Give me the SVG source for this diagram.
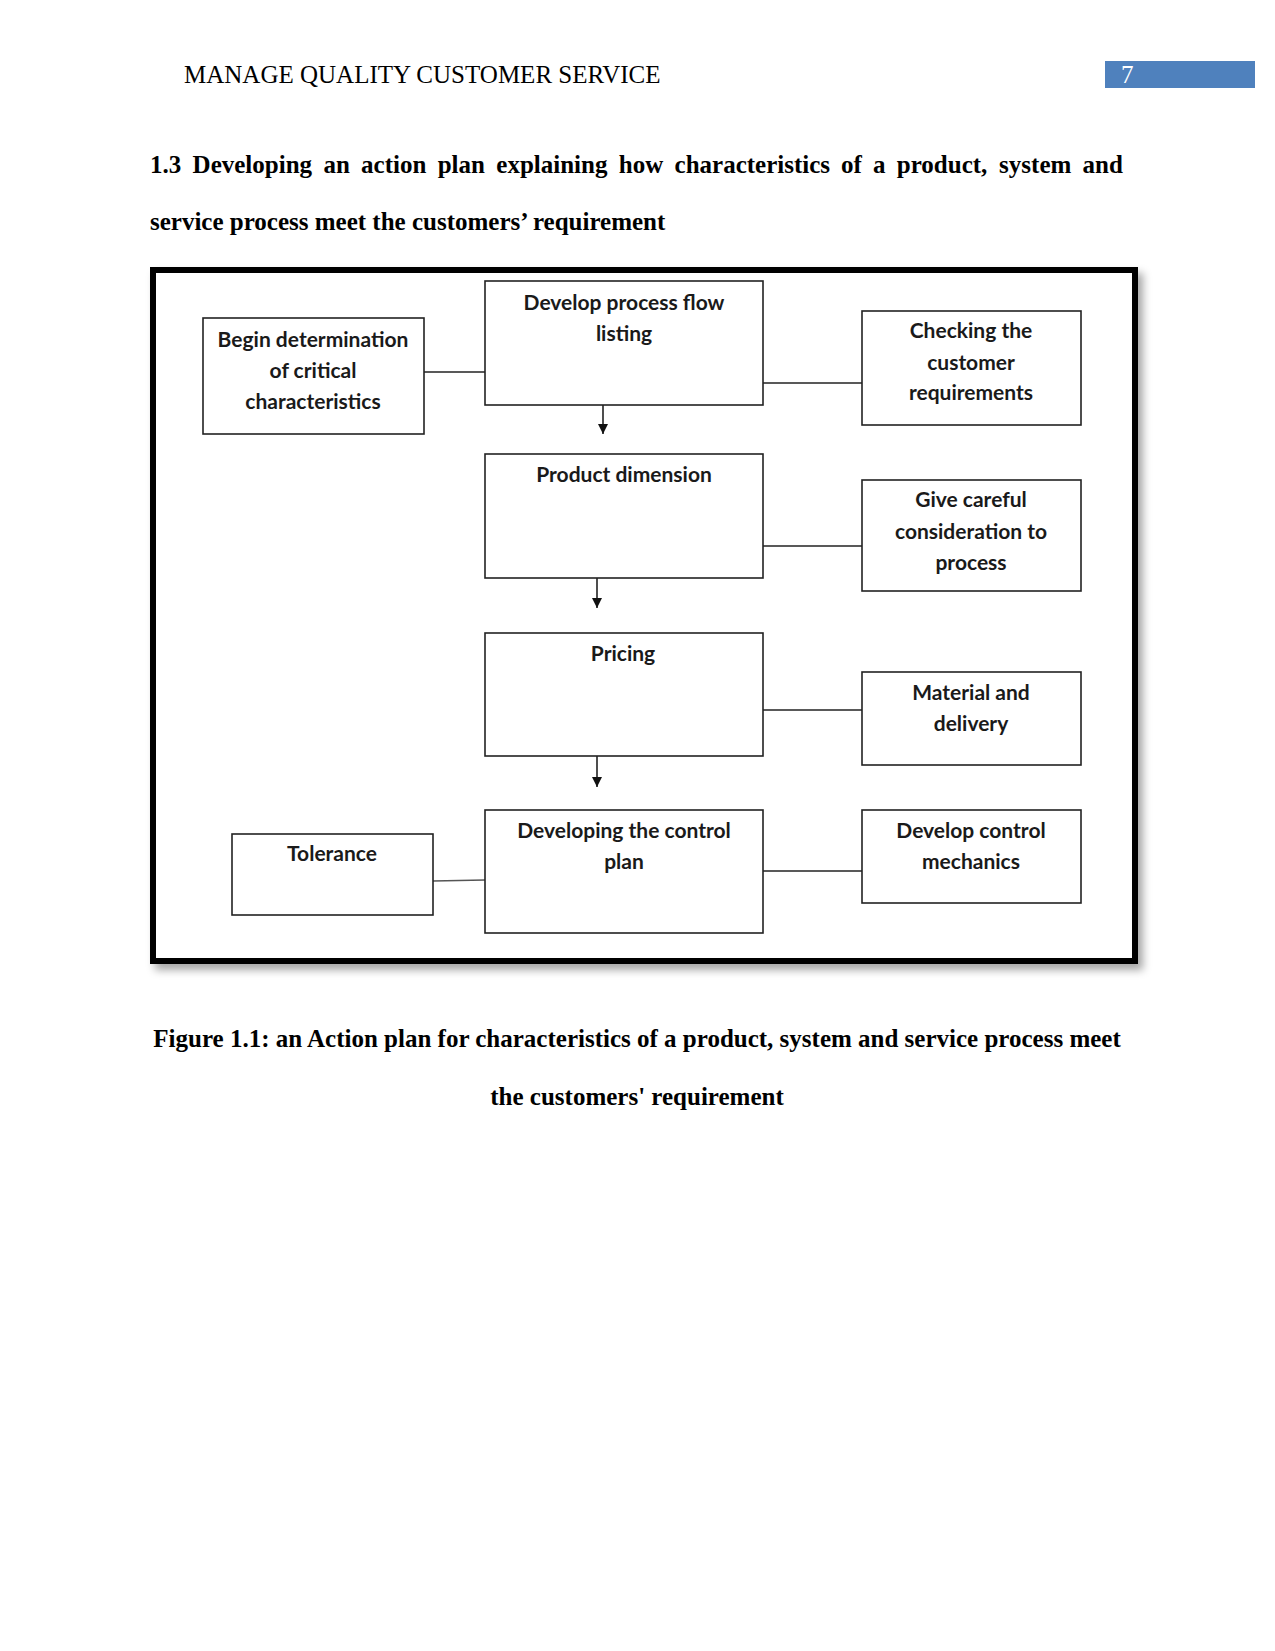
<svg xmlns="http://www.w3.org/2000/svg" width="1275" height="1651" viewBox="0 0 1275 1651">
<style>
.serif{font-family:"Liberation Serif","Times New Roman",serif;fill:#000}
.hd{font-size:25px}
.b{font-weight:bold;font-size:25px}
.box{fill:#fff;stroke:#222;stroke-width:1.6}
.lbl{font-family:Lato,"Open Sans","Noto Sans",sans-serif;font-size:21px;font-weight:bold;fill:#1a1a1a;text-anchor:middle}
.ln{stroke:#222;stroke-width:1.6;fill:none}
</style>
<defs>
<marker id="ah" viewBox="0 0 10 10" refX="10" refY="5" markerWidth="10" markerHeight="10" markerUnits="userSpaceOnUse" orient="auto">
<path d="M0,0 L10,5 L0,10 z" fill="#111"/>
</marker>
<filter id="sh" x="-5%" y="-5%" width="112%" height="115%">
<feDropShadow dx="5" dy="6" stdDeviation="4" flood-color="#000" flood-opacity="0.35"/>
</filter>
</defs>
<rect width="1275" height="1651" fill="#fff"/>
<text class="serif hd" x="184" y="83">MANAGE QUALITY CUSTOMER SERVICE</text>
<rect x="1105" y="61" width="150" height="27" fill="#4F81BD"/>
<text class="serif hd" x="1121" y="83" style="fill:#fff">7</text>
<text class="serif b" y="173"><tspan x="150">1.3</tspan><tspan x="192.6">Developing</tspan><tspan x="323.4">an</tspan><tspan x="361.1">action</tspan><tspan x="437.7">plan</tspan><tspan x="496.3">explaining</tspan><tspan x="618.8">how</tspan><tspan x="674.6">characteristics</tspan><tspan x="840.9">of</tspan><tspan x="873">a</tspan><tspan x="896.8">product,</tspan><tspan x="999.1">system</tspan><tspan x="1082.6">and</tspan></text>
<text class="serif b" x="150" y="230">service process meet the customers’ requirement</text>
<rect x="153" y="270" width="982" height="691" fill="#fff" stroke="#000" stroke-width="6" filter="url(#sh)"/>
<g id="connectors">
<line class="ln" x1="424" y1="372" x2="485" y2="372"/>
<line class="ln" x1="763" y1="383" x2="862" y2="383"/>
<line class="ln" x1="603" y1="405" x2="603" y2="434" marker-end="url(#ah)"/>
<line class="ln" x1="763" y1="546" x2="862" y2="546"/>
<line class="ln" x1="597" y1="578" x2="597" y2="608" marker-end="url(#ah)"/>
<line class="ln" x1="763" y1="710" x2="862" y2="710"/>
<line class="ln" x1="597" y1="756" x2="597" y2="787" marker-end="url(#ah)"/>
<line class="ln" x1="433" y1="881" x2="485" y2="880" style="stroke:#555"/>
<line class="ln" x1="763" y1="871" x2="862" y2="871"/>
</g>
<g id="n-begin"><rect class="box" x="203" y="318" width="221" height="116"/><text class="lbl" x="313" y="347">Begin determination</text><text class="lbl" x="313" y="378">of critical</text><text class="lbl" x="313" y="409">characteristics</text></g>
<g id="n-flow"><rect class="box" x="485" y="281" width="278" height="124"/><text class="lbl" x="624" y="310">Develop process flow</text><text class="lbl" x="624" y="341">listing</text></g>
<g id="n-check"><rect class="box" x="862" y="311" width="219" height="114"/><text class="lbl" x="971" y="338">Checking the</text><text class="lbl" x="971" y="370">customer</text><text class="lbl" x="971" y="400">requirements</text></g>
<g id="n-product"><rect class="box" x="485" y="454" width="278" height="124"/><text class="lbl" x="624" y="482">Product dimension</text></g>
<g id="n-careful"><rect class="box" x="862" y="480" width="219" height="111"/><text class="lbl" x="971" y="507">Give careful</text><text class="lbl" x="971" y="539">consideration to</text><text class="lbl" x="971" y="570">process</text></g>
<g id="n-pricing"><rect class="box" x="485" y="633" width="278" height="123"/><text class="lbl" x="623" y="661">Pricing</text></g>
<g id="n-material"><rect class="box" x="862" y="672" width="219" height="93"/><text class="lbl" x="971" y="700">Material and</text><text class="lbl" x="971" y="731">delivery</text></g>
<g id="n-tolerance"><rect class="box" x="232" y="834" width="201" height="81"/><text class="lbl" x="332" y="861">Tolerance</text></g>
<g id="n-control"><rect class="box" x="485" y="810" width="278" height="123"/><text class="lbl" x="624" y="838">Developing the control</text><text class="lbl" x="624" y="869">plan</text></g>
<g id="n-mechanics"><rect class="box" x="862" y="810" width="219" height="93"/><text class="lbl" x="971" y="838">Develop control</text><text class="lbl" x="971" y="869">mechanics</text></g>
<text class="serif b" x="637" y="1047" text-anchor="middle">Figure 1.1: an Action plan for characteristics of a product, system and service process meet</text>
<text class="serif b" x="637" y="1105" text-anchor="middle">the customers' requirement</text>
</svg>
